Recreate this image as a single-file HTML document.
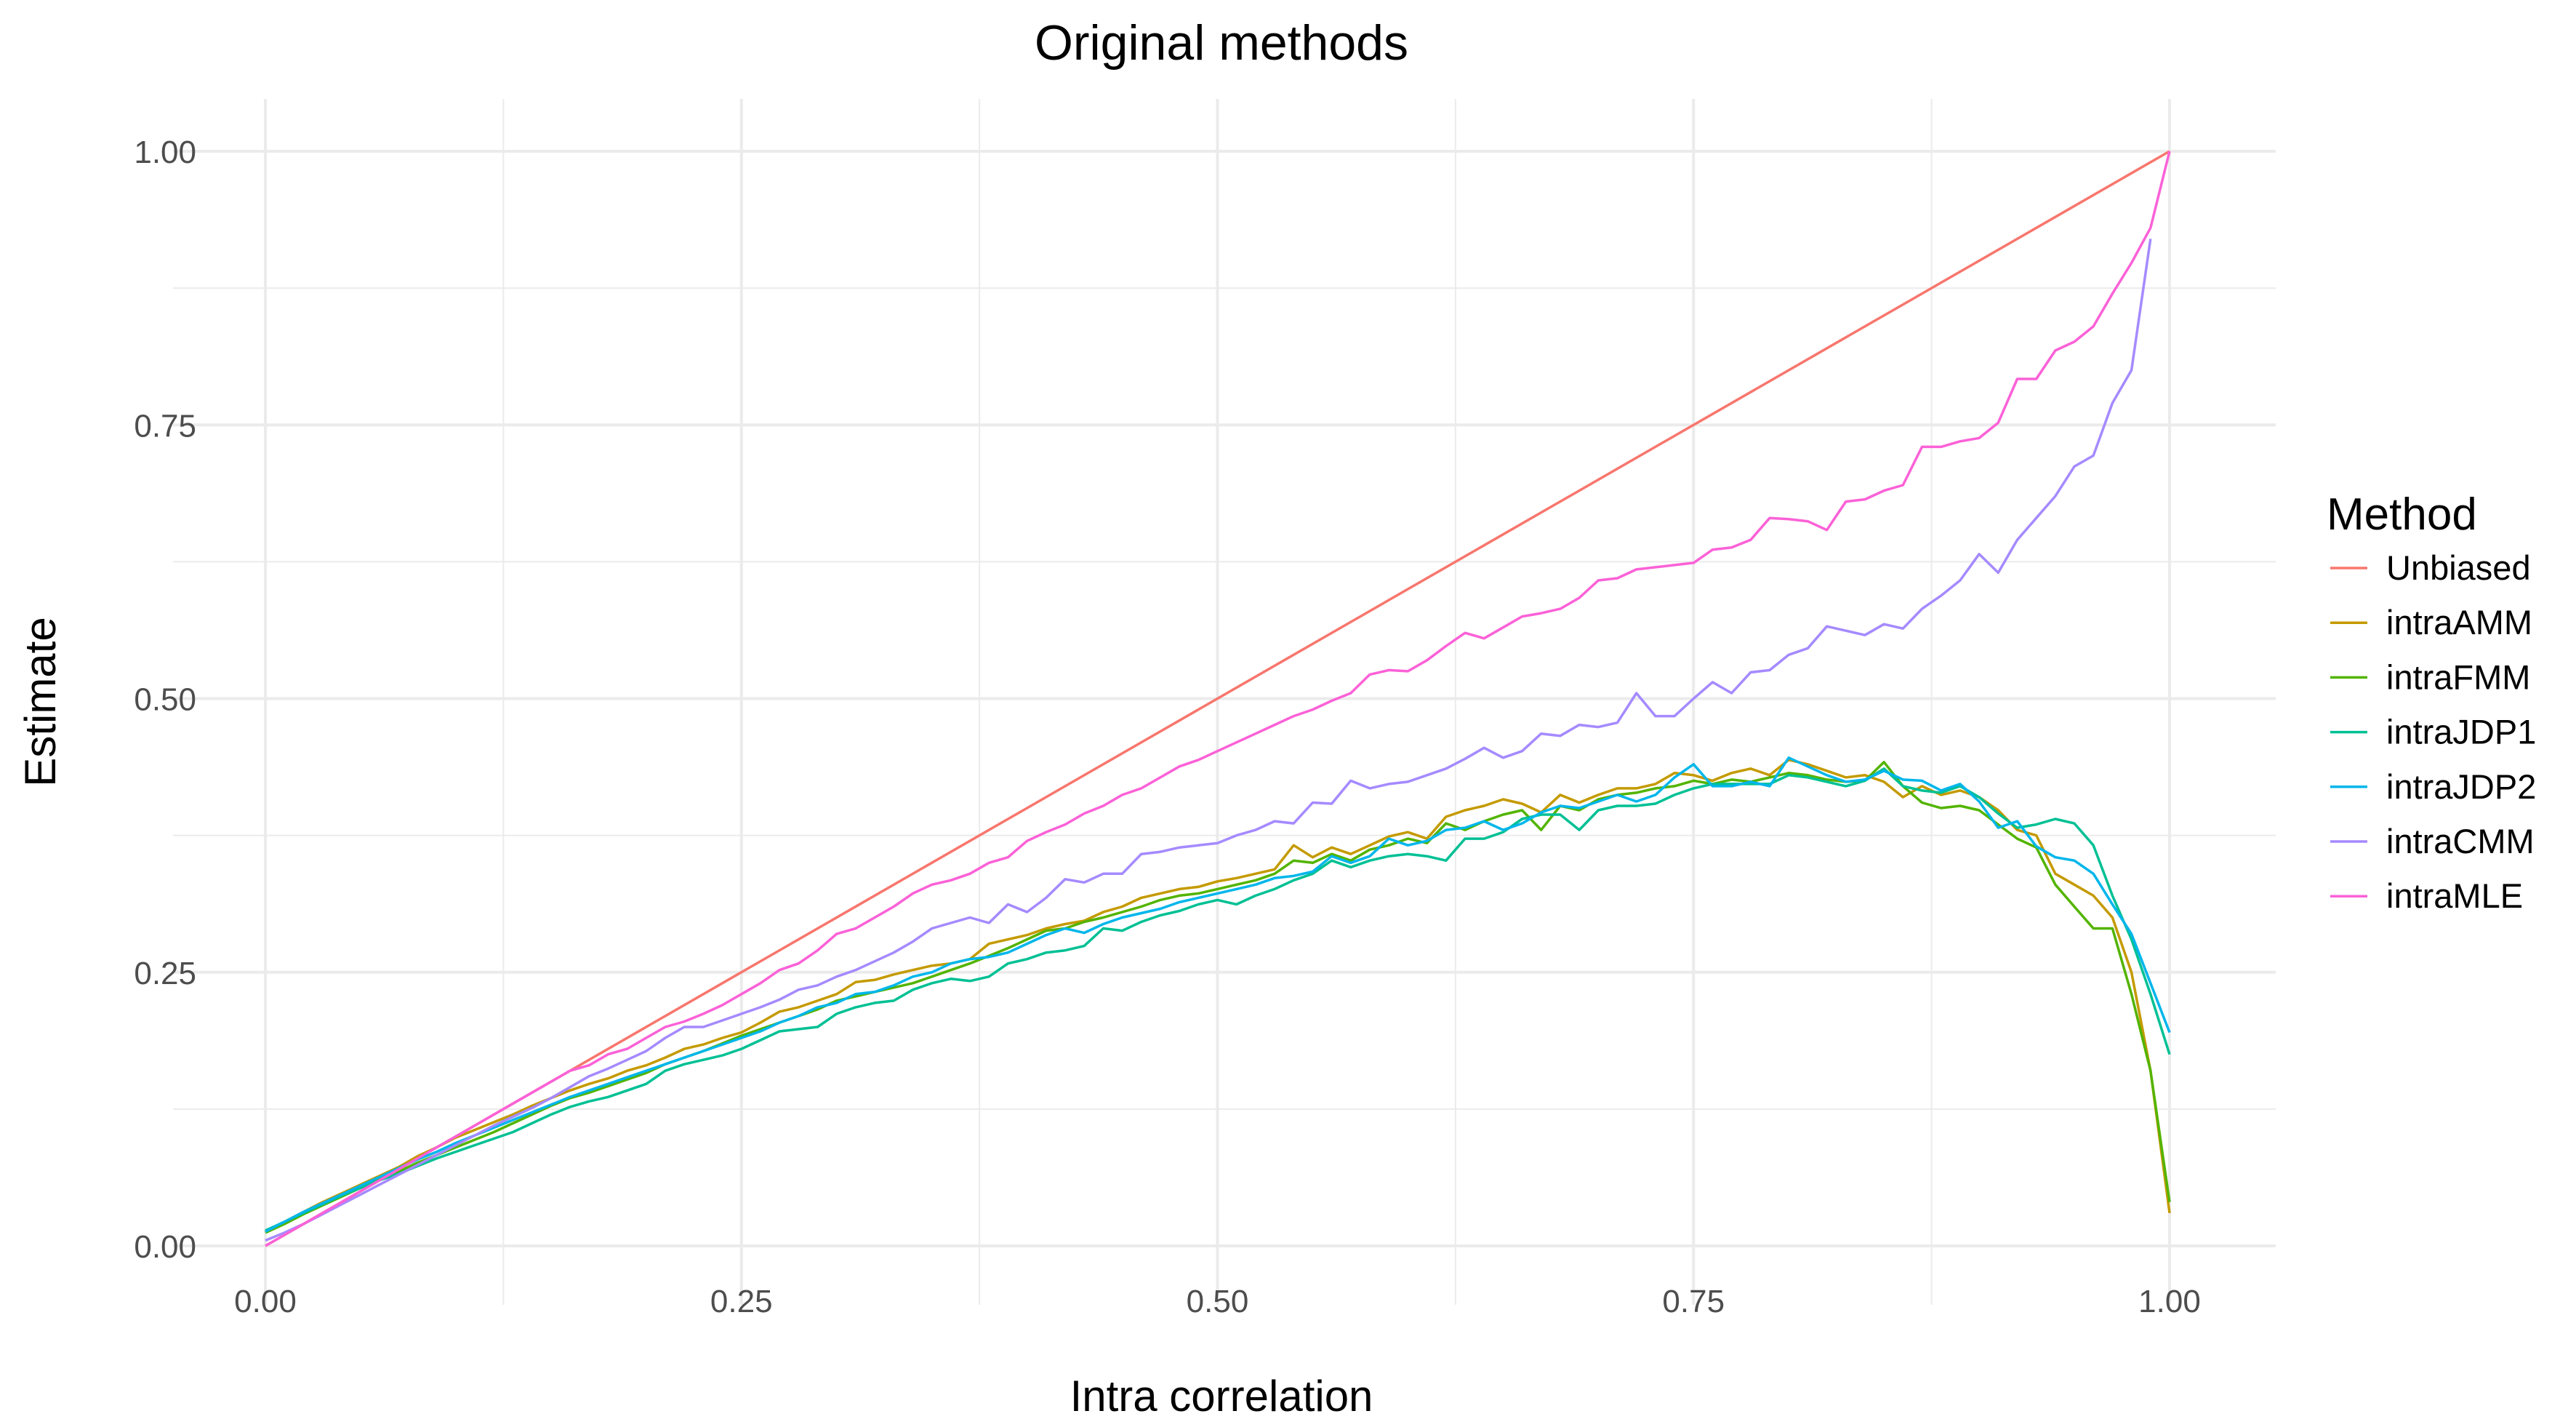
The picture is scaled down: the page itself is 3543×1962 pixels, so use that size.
<!DOCTYPE html>
<html><head><meta charset="utf-8"><style>
html,body{margin:0;padding:0;background:#fff;}
svg{display:block;font-family:"Liberation Sans",sans-serif;}
</style></head><body>
<svg id="chart" width="3543" height="1962" viewBox="0 0 3543 1962" xmlns="http://www.w3.org/2000/svg">
<rect x="0" y="0" width="3543" height="1962" fill="#fff"/>
<g id="grid"></g>
<g id="series"></g>
<g id="axes"></g>
<text x="1680" y="82" text-anchor="middle" font-size="68" fill="#000">Original methods</text>
<text x="1680" y="1940" text-anchor="middle" font-size="60" fill="#000">Intra correlation</text>
<text x="0" y="0" transform="translate(76,965) rotate(-90)" text-anchor="middle" font-size="60" fill="#000">Estimate</text>
<g id="legend"></g>
</svg>
<script>
const xTicks=[0,0.25,0.5,0.75,1];
const xTickLabels=["0.00","0.25","0.50","0.75","1.00"];
const yTicks=[0,0.25,0.5,0.75,1];
const yTickLabels=["0.00","0.25","0.50","0.75","1.00"];
const seriesNames=["Unbiased","intraAMM","intraFMM","intraJDP1","intraJDP2","intraCMM","intraMLE"];
const unbiasedX=[0,1];
const unbiased=[0,1];
const intraAMM=[0.013,0.022,0.031,0.040,0.048,0.056,0.064,0.072,0.082,0.090,0.099,0.106,0.113,0.120,0.128,0.135,0.142,0.148,0.153,0.160,0.165,0.172,0.180,0.184,0.190,0.195,0.204,0.214,0.218,0.224,0.230,0.241,0.243,0.248,0.252,0.256,0.258,0.262,0.276,0.280,0.284,0.290,0.294,0.297,0.305,0.310,0.318,0.322,0.326,0.328,0.333,0.336,0.340,0.344,0.366,0.355,0.364,0.358,0.366,0.374,0.378,0.372,0.392,0.398,0.402,0.408,0.404,0.396,0.412,0.405,0.412,0.418,0.418,0.422,0.432,0.430,0.425,0.432,0.436,0.430,0.444,0.440,0.434,0.428,0.430,0.424,0.410,0.420,0.412,0.416,0.410,0.398,0.380,0.375,0.340,0.330,0.320,0.300,0.250,0.160,0.030];
const intraFMM=[0.012,0.020,0.029,0.037,0.045,0.053,0.061,0.068,0.076,0.083,0.090,0.097,0.104,0.112,0.120,0.128,0.135,0.140,0.146,0.152,0.158,0.166,0.172,0.178,0.185,0.192,0.198,0.204,0.210,0.216,0.224,0.228,0.232,0.236,0.240,0.246,0.252,0.258,0.265,0.272,0.280,0.288,0.290,0.296,0.300,0.305,0.310,0.316,0.320,0.322,0.326,0.330,0.334,0.340,0.352,0.350,0.358,0.352,0.362,0.366,0.372,0.368,0.386,0.380,0.388,0.394,0.398,0.380,0.402,0.398,0.408,0.412,0.414,0.418,0.420,0.425,0.422,0.426,0.424,0.428,0.432,0.430,0.426,0.424,0.425,0.442,0.420,0.405,0.400,0.402,0.398,0.385,0.372,0.364,0.330,0.310,0.290,0.290,0.230,0.160,0.040];
const intraJDP1=[0.014,0.022,0.030,0.038,0.046,0.053,0.060,0.066,0.073,0.080,0.086,0.092,0.098,0.104,0.112,0.120,0.127,0.132,0.136,0.142,0.148,0.160,0.166,0.170,0.174,0.180,0.188,0.196,0.198,0.200,0.212,0.218,0.222,0.224,0.234,0.240,0.244,0.242,0.246,0.258,0.262,0.268,0.270,0.274,0.290,0.288,0.296,0.302,0.306,0.312,0.316,0.312,0.320,0.326,0.334,0.340,0.352,0.346,0.352,0.356,0.358,0.356,0.352,0.372,0.372,0.378,0.390,0.394,0.394,0.380,0.398,0.402,0.402,0.404,0.412,0.418,0.422,0.422,0.422,0.422,0.430,0.428,0.424,0.420,0.425,0.436,0.420,0.416,0.414,0.420,0.410,0.395,0.382,0.385,0.390,0.386,0.366,0.320,0.280,0.230,0.175];
const intraJDP2=[0.013,0.022,0.031,0.039,0.047,0.055,0.063,0.071,0.079,0.086,0.094,0.101,0.108,0.115,0.122,0.129,0.136,0.142,0.148,0.154,0.160,0.166,0.172,0.178,0.184,0.190,0.196,0.204,0.210,0.218,0.222,0.230,0.232,0.238,0.246,0.250,0.258,0.262,0.264,0.268,0.276,0.284,0.290,0.286,0.294,0.300,0.304,0.308,0.314,0.318,0.322,0.326,0.330,0.336,0.338,0.342,0.356,0.350,0.356,0.372,0.366,0.370,0.380,0.382,0.388,0.380,0.386,0.396,0.402,0.400,0.406,0.412,0.406,0.412,0.428,0.440,0.420,0.420,0.424,0.420,0.446,0.438,0.430,0.424,0.426,0.434,0.426,0.425,0.416,0.422,0.406,0.382,0.388,0.365,0.355,0.352,0.340,0.312,0.285,0.240,0.195];
const intraCMM=[0.005,0.012,0.020,0.029,0.038,0.047,0.056,0.065,0.074,0.083,0.092,0.101,0.110,0.118,0.126,0.135,0.145,0.155,0.162,0.170,0.178,0.190,0.200,0.200,0.206,0.212,0.218,0.225,0.234,0.238,0.246,0.252,0.260,0.268,0.278,0.290,0.295,0.300,0.295,0.312,0.305,0.318,0.335,0.332,0.340,0.340,0.358,0.360,0.364,0.366,0.368,0.375,0.380,0.388,0.386,0.405,0.404,0.425,0.418,0.422,0.424,0.430,0.436,0.445,0.455,0.446,0.452,0.468,0.466,0.476,0.474,0.478,0.505,0.484,0.484,0.500,0.515,0.505,0.524,0.526,0.540,0.546,0.566,0.562,0.558,0.568,0.564,0.582,0.594,0.608,0.632,0.615,0.645,0.665,0.685,0.712,0.722,0.770,0.800,0.920];
const intraMLE=[0.000,0.010,0.020,0.030,0.040,0.050,0.060,0.070,0.080,0.090,0.100,0.110,0.120,0.130,0.140,0.150,0.160,0.165,0.175,0.180,0.190,0.200,0.205,0.212,0.220,0.230,0.240,0.252,0.258,0.270,0.285,0.290,0.300,0.310,0.322,0.330,0.334,0.340,0.350,0.355,0.370,0.378,0.385,0.395,0.402,0.412,0.418,0.428,0.438,0.444,0.452,0.460,0.468,0.476,0.484,0.490,0.498,0.505,0.522,0.526,0.525,0.535,0.548,0.560,0.555,0.565,0.575,0.578,0.582,0.592,0.608,0.610,0.618,0.620,0.622,0.624,0.636,0.638,0.645,0.665,0.664,0.662,0.654,0.680,0.682,0.690,0.695,0.730,0.730,0.735,0.738,0.752,0.792,0.792,0.818,0.826,0.840,0.870,0.898,0.930,1.000];

const NS="http://www.w3.org/2000/svg";
const X0=365,X1=2984,Y0=1713,Y1=208;
const PL=238,PR=3130,PT=136,PB=1794;
function sx(v){return X0+v*(X1-X0);}
function sy(v){return Y0-v*(Y0-Y1);}
function mk(tag,attrs,parent){const e=document.createElementNS(NS,tag);for(const k in attrs)e.setAttribute(k,attrs[k]);parent.appendChild(e);return e;}
const grid=document.getElementById('grid'),axes=document.getElementById('axes'),ser=document.getElementById('series'),leg=document.getElementById('legend');
for(let i=0;i<xTicks.length-1;i++){
  const m=(xTicks[i]+xTicks[i+1])/2;
  const l=mk('line',{x1:sx(m),x2:sx(m),y1:PT,y2:PB,stroke:'#EBEBEB','stroke-width':2},grid);
  
  
}
for(let i=0;i<yTicks.length-1;i++){
  const m=(yTicks[i]+yTicks[i+1])/2;
  const l=mk('line',{x1:PL,x2:PR,y1:sy(m),y2:sy(m),stroke:'#EBEBEB','stroke-width':2},grid);
  
  
}
xTicks.forEach((t,i)=>{
  const l=mk('line',{x1:sx(t),x2:sx(t),y1:PT,y2:PB,stroke:'#EBEBEB','stroke-width':4},grid);
  
  
  const tx=mk('text',{x:sx(t),y:1804,'text-anchor':'middle','font-size':44,fill:'#4D4D4D'},axes);
  tx.textContent=xTickLabels[i];
  
  
});
yTicks.forEach((t,i)=>{
  const l=mk('line',{x1:PL,x2:PR,y1:sy(t),y2:sy(t),stroke:'#EBEBEB','stroke-width':4},grid);
  
  
  const tx=mk('text',{x:270,y:sy(t)+16,'text-anchor':'end','font-size':44,fill:'#4D4D4D'},axes);
  tx.textContent=yTickLabels[i];
  
  
});
const colors=["#F8766D","#C49A00","#53B400","#00C094","#00B6EB","#A58AFF","#FB61D7"];
const data=[unbiased,intraAMM,intraFMM,intraJDP1,intraJDP2,intraCMM,intraMLE];
data.forEach((arr,k)=>{
  const pts=arr.map((v,i)=>{const xv=(k===0)?unbiasedX[i]:i/100;return sx(xv).toFixed(1)+','+sy(v).toFixed(1);}).join(' ');
  const p=mk('polyline',{points:pts,fill:'none',stroke:colors[k],'stroke-width':3.5,'stroke-linejoin':'round'},ser);
  
  
});
const lt=mk('text',{x:3200,y:728,'font-size':62,fill:'#000'},leg);
lt.textContent='Method';


seriesNames.forEach((n,k)=>{
  const y=781+k*75.2;
  const g=mk('g',{},leg);
  
  
  const l=mk('line',{x1:3205,x2:3256,y1:y,y2:y,stroke:colors[k],'stroke-width':3.5},g);
  
  
  const t=mk('text',{x:3282,y:y+16,'font-size':47,fill:'#000'},g);
  t.textContent=n;
  
  
});
</script>
</body></html>
